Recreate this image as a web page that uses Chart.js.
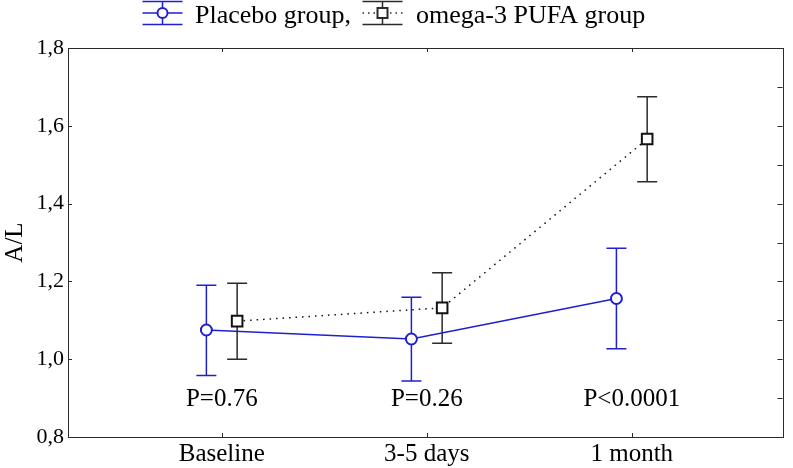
<!DOCTYPE html>
<html>
<head>
<meta charset="utf-8">
<script src="https://cdn.jsdelivr.net/npm/chart.js@4/dist/chart.umd.min.js"></script>
<style>
  html, body { margin: 0; background: #fff; }
  #wrap { width: 793px; height: 468px; }
</style>
</head>
<body>
<div id="wrap"><canvas id="chart"></canvas></div>
<script>
// values
const categories = ['Baseline', '3-5 days', '1 month'];
const placeboMean = [1.075, 1.052, 1.156];
const placeboLow = [0.958, 0.944, 1.027];
const placeboHigh = [1.190, 1.159, 1.285];
const omegaMean = [1.098, 1.132, 1.566];
const omegaLow = [1.000, 1.041, 1.456];
const omegaHigh = [1.195, 1.222, 1.675];
const pLabels = ['P=0.76', 'P=0.26', 'P<0.0001'];
const xTickValues = [0, 1, 2];
const yMinorTicks = [0.9, 1.0, 1.1, 1.2, 1.3, 1.4, 1.5, 1.6, 1.7];

const BLUE = '#1f1fd2';
const DARK = '#2b2b2b';
const SERIF = '"Liberation Serif", "Times New Roman", serif';
const SHIFT = 0.075;

Chart.defaults.font.family = SERIF;
Chart.defaults.color = '#000';

// whiskers behind the markers
const errorBars = {
  id: 'errorBars',
  beforeDatasetsDraw(chart) {
    const { ctx, scales: { y } } = chart;
    chart.data.datasets.forEach((ds, di) => {
      const meta = chart.getDatasetMeta(di);
      ctx.save();
      ctx.strokeStyle = ds.whiskerColor;
      ctx.lineWidth = 1.5;
      meta.data.forEach((pt, i) => {
        const top = y.getPixelForValue(ds.high[i]);
        const bot = y.getPixelForValue(ds.low[i]);
        ctx.beginPath();
        ctx.moveTo(pt.x, top); ctx.lineTo(pt.x, bot);
        ctx.moveTo(pt.x - 10, top); ctx.lineTo(pt.x + 10, top);
        ctx.moveTo(pt.x - 10, bot); ctx.lineTo(pt.x + 10, bot);
        ctx.stroke();
      });
      ctx.restore();
    });
  }
};

// box round the plot with inward ticks
const frame = {
  id: 'frame',
  afterDraw(chart) {
    const { ctx, chartArea: a, scales: { x, y } } = chart;
    ctx.save();
    ctx.strokeStyle = DARK;
    ctx.lineWidth = 1;
    ctx.strokeRect(Math.round(a.left) + 0.5, Math.round(a.top) + 0.5,
      Math.round(a.right - a.left) - 1, Math.round(a.bottom - a.top));
    ctx.beginPath();
    xTickValues.forEach(v => {
      const px = Math.round(x.getPixelForValue(v)) + 0.5;
      ctx.moveTo(px, a.bottom); ctx.lineTo(px, a.bottom - 4);
      ctx.moveTo(px, a.top); ctx.lineTo(px, a.top + 4);
    });
    y.ticks.forEach(t => {
      const py = Math.round(y.getPixelForValue(t.value)) + 0.5;
      ctx.moveTo(a.left, py); ctx.lineTo(a.left + 4, py);
    });
    yMinorTicks.forEach(v => {
      const py = Math.round(y.getPixelForValue(v)) + 0.5;
      ctx.moveTo(a.right - 1, py); ctx.lineTo(a.right - 6, py);
    });
    ctx.stroke();
    ctx.restore();
  }
};

// P values under each time point
const pText = {
  id: 'pText',
  afterDatasetsDraw(chart) {
    const { ctx, scales: { x, y } } = chart;
    ctx.save();
    ctx.font = '25px ' + SERIF;
    ctx.fillStyle = '#000';
    ctx.textAlign = 'center';
    ctx.textBaseline = 'alphabetic';
    pLabels.forEach((t, i) => {
      ctx.fillText(t, x.getPixelForValue(xTickValues[i]), y.getPixelForValue(0.88));
    });
    ctx.restore();
  }
};

// legend in the style of the original
const legendTop = {
  id: 'legendTop',
  afterDraw(chart) {
    const ctx = chart.ctx;
    const drawSym = (cx, color, dotted, square) => {
      ctx.save();
      ctx.strokeStyle = color;
      ctx.lineWidth = 1.5;
      ctx.beginPath();
      ctx.moveTo(cx - 20, 1.5); ctx.lineTo(cx + 20, 1.5);
      ctx.moveTo(cx - 20, 24.5); ctx.lineTo(cx + 20, 24.5);
      ctx.moveTo(cx, 1.5); ctx.lineTo(cx, 24.5);
      ctx.stroke();
      ctx.beginPath();
      if (dotted) ctx.setLineDash([1.5, 4]);
      ctx.moveTo(cx - 20, 13); ctx.lineTo(cx + 20, 13);
      ctx.stroke();
      ctx.setLineDash([]);
      ctx.fillStyle = '#fff';
      ctx.lineWidth = 2;
      ctx.beginPath();
      if (square) ctx.rect(cx - 5, 8, 10, 10);
      else ctx.arc(cx, 13, 5, 0, Math.PI * 2);
      ctx.fill();
      ctx.stroke();
      ctx.restore();
    };
    drawSym(162.5, BLUE, false, false);
    drawSym(382.5, DARK, true, true);
    ctx.save();
    ctx.font = '26px ' + SERIF;
    ctx.fillStyle = '#000';
    ctx.textBaseline = 'alphabetic';
    ctx.fillText('Placebo group,', 195, 23);
    ctx.fillText('omega-3 PUFA group', 416, 23);
    ctx.restore();
  }
};

new Chart(document.getElementById('chart'), {
  type: 'line',
  data: {
    datasets: [{
      label: 'Placebo group',
      data: placeboMean.map((v, i) => ({ x: xTickValues[i] - SHIFT, y: v })),
      low: placeboLow,
      high: placeboHigh,
      whiskerColor: BLUE,
      borderColor: BLUE,
      borderWidth: 1.5,
      pointStyle: 'circle',
      pointRadius: 5.5,
      pointBorderWidth: 2,
      pointBackgroundColor: '#fff',
      pointBorderColor: BLUE,
      tension: 0
    }, {
      label: 'omega-3 PUFA group',
      data: omegaMean.map((v, i) => ({ x: xTickValues[i] + SHIFT, y: v })),
      low: omegaLow,
      high: omegaHigh,
      whiskerColor: DARK,
      borderColor: '#111',
      borderWidth: 1.5,
      borderDash: [1.5, 5],
      pointStyle: 'rect',
      pointRadius: 7.5,
      pointBorderWidth: 2,
      pointBackgroundColor: '#fff',
      pointBorderColor: '#111',
      tension: 0
    }]
  },
  options: {
    responsive: true,
    maintainAspectRatio: false,
    animation: false,
    layout: { padding: { top: 48, right: 2, left: 0, bottom: 0 } },
    plugins: { legend: { display: false }, tooltip: { enabled: false } },
    scales: {
      x: {
        type: 'linear',
        min: -0.75,
        max: 2.74,
        grid: { display: false, drawTicks: false },
        border: { display: false },
        afterBuildTicks: s => { s.ticks = xTickValues.map(v => ({ value: v })); },
        afterFit: s => { s.height = 31; },
        ticks: {
          font: { size: 25 },
          color: '#000',
          padding: 2,
          maxRotation: 0,
          autoSkip: false,
          callback: v => categories[v]
        }
      },
      y: {
        min: 0.8,
        max: 1.8,
        grid: { display: false, drawTicks: false },
        border: { display: false },
        afterFit: s => { s.width = 68; },
        ticks: {
          stepSize: 0.2,
          font: { size: 22 },
          color: '#000',
          padding: 4,
          callback: v => v.toFixed(1).replace('.', ',')
        },
        title: { display: true, text: 'A/L', font: { size: 25 }, color: '#000', padding: 0 }
      }
    }
  },
  plugins: [errorBars, frame, pText, legendTop]
});
</script>
</body>
</html>
